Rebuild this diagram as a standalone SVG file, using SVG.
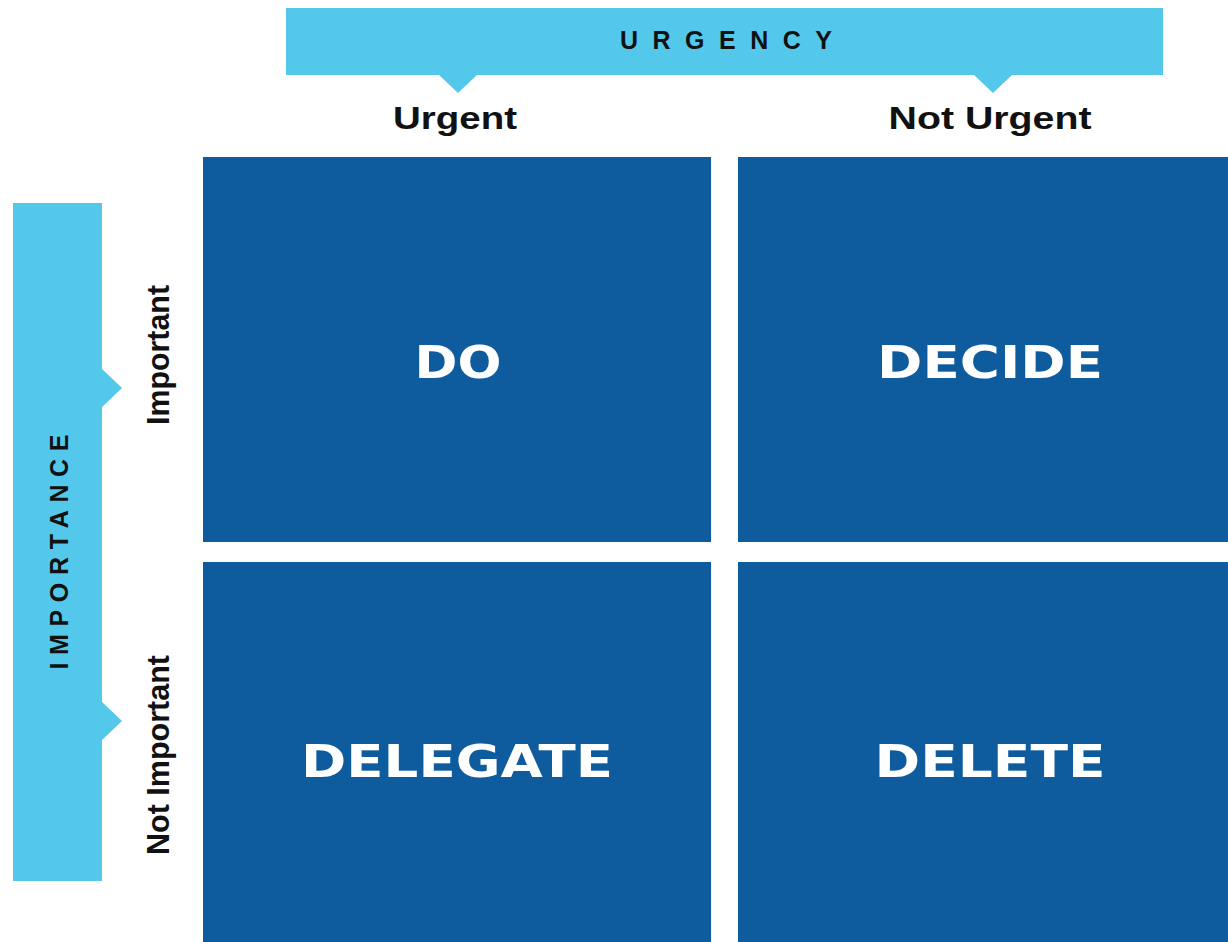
<svg xmlns="http://www.w3.org/2000/svg" width="1228" height="942" viewBox="0 0 1228 942">
<style>
.band{fill:#54C8EA}
.quad{fill:#0E5B9D}
.axis{font-family:"Liberation Sans",Arial,sans-serif;font-weight:bold;font-size:25px;fill:#111;text-anchor:middle}
.lab{font-family:"Liberation Sans",Arial,sans-serif;font-weight:bold;font-size:32px;fill:#111;text-anchor:middle}
.qt{font-family:"DejaVu Sans",Verdana,sans-serif;font-weight:bold;font-size:45px;fill:#fff;text-anchor:middle}
</style>
<rect width="1228" height="942" fill="#fff"/>
<g id="urgency-axis">
<rect class="band" x="286" y="8" width="877" height="67"/>
<polygon class="band" points="438,74 478,74 458,93"/>
<polygon class="band" points="973,74 1013,74 993,93"/>
<text class="axis" x="726" y="49" textLength="212" lengthAdjust="spacing">URGENCY</text>
<text class="lab" x="455" y="129" textLength="124" lengthAdjust="spacingAndGlyphs">Urgent</text>
<text class="lab" x="990" y="129" textLength="203" lengthAdjust="spacingAndGlyphs">Not Urgent</text>
</g>
<g id="importance-axis">
<rect class="band" x="13" y="203" width="89" height="678"/>
<polygon class="band" points="101,368 101,408 122,388"/>
<polygon class="band" points="101,701 101,741 122,721"/>
<text class="axis" transform="translate(68,552) rotate(-90)" textLength="235" lengthAdjust="spacing">IMPORTANCE</text>
<text class="lab" transform="translate(169,355) rotate(-90)" textLength="140" lengthAdjust="spacingAndGlyphs">Important</text>
<text class="lab" transform="translate(169,755) rotate(-90)" textLength="200" lengthAdjust="spacingAndGlyphs">Not Important</text>
</g>
<g id="do">
<rect class="quad" x="203" y="157" width="508" height="385"/>
<text class="qt" x="458" y="378" textLength="87" lengthAdjust="spacingAndGlyphs">DO</text>
</g>
<g id="decide">
<rect class="quad" x="738" y="157" width="490" height="385"/>
<text class="qt" x="990" y="378" textLength="226" lengthAdjust="spacingAndGlyphs">DECIDE</text>
</g>
<g id="delegate">
<rect class="quad" x="203" y="562" width="508" height="380"/>
<text class="qt" x="457" y="777" textLength="312" lengthAdjust="spacingAndGlyphs">DELEGATE</text>
</g>
<g id="delete">
<rect class="quad" x="738" y="562" width="490" height="380"/>
<text class="qt" x="990" y="777" textLength="231" lengthAdjust="spacingAndGlyphs">DELETE</text>
</g>
<g id="connectors"/>
</svg>
